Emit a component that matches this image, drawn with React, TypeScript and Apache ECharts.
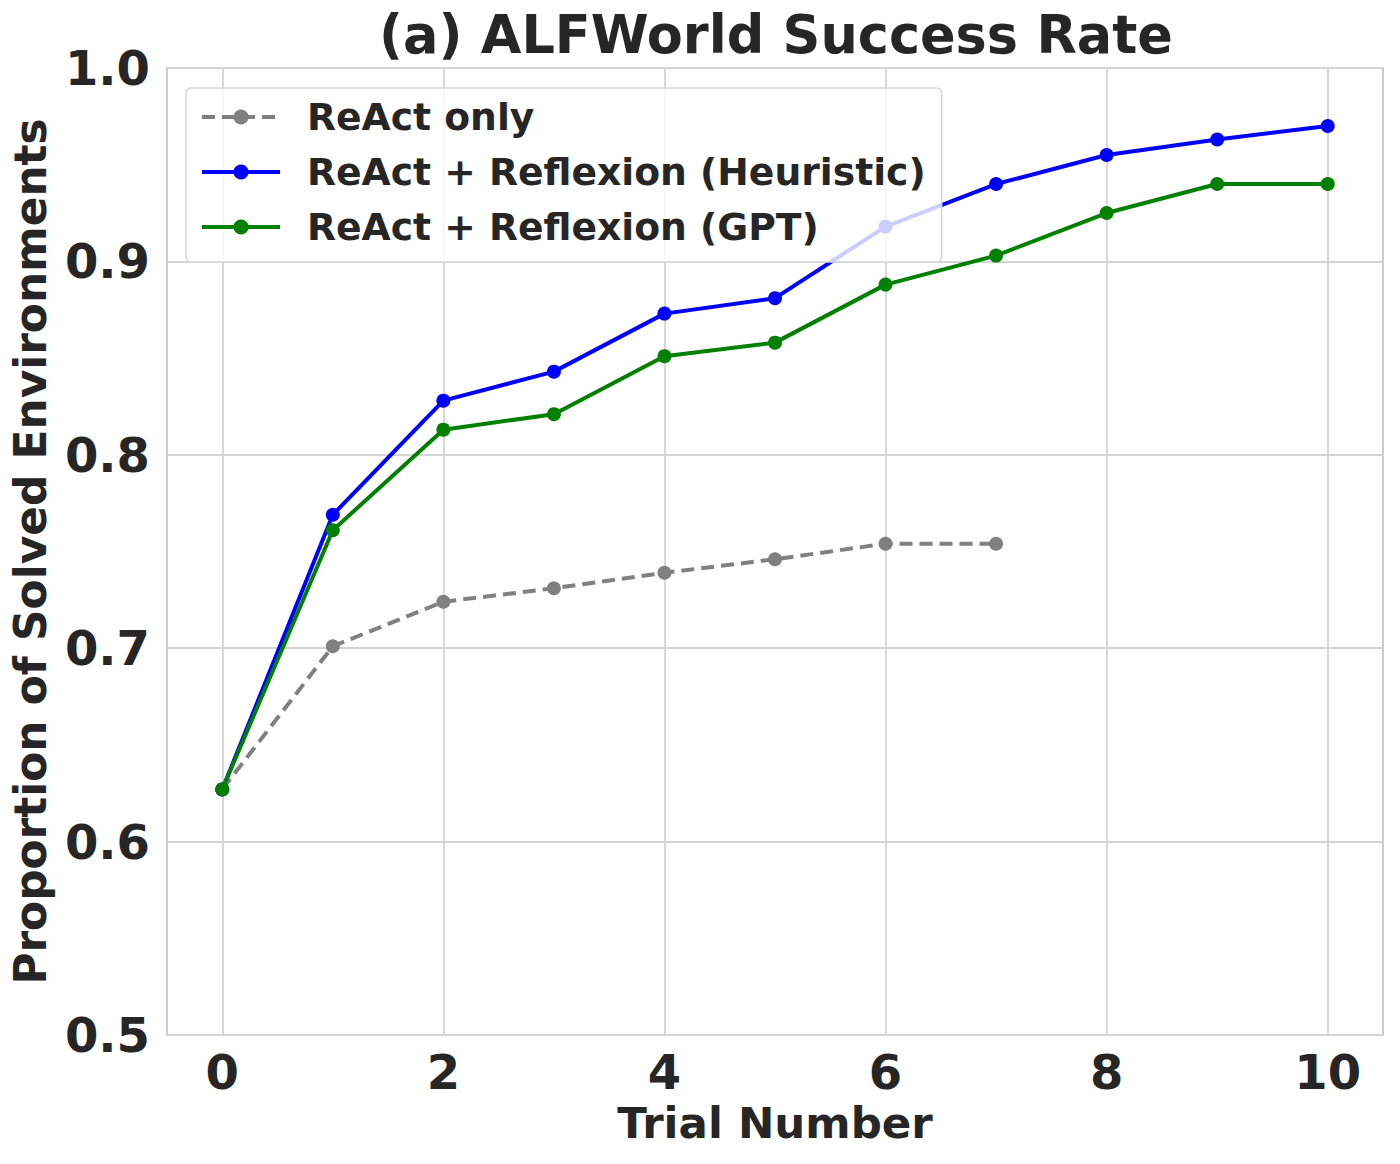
import React, { useEffect, useRef } from "react";
import * as echarts from "echarts";

const trials = [0, 1, 2, 3, 4, 5, 6, 7, 8, 9, 10];
const reactOnly = [0.627, 0.701, 0.724, 0.731, 0.739, 0.746, 0.754, 0.754];
const heuristic = [0.627, 0.769, 0.828, 0.843, 0.873, 0.881, 0.918, 0.94, 0.955, 0.963, 0.97];
const gpt = [0.627, 0.761, 0.813, 0.821, 0.851, 0.858, 0.888, 0.903, 0.925, 0.94, 0.94];
const xTicks = [0, 2, 4, 6, 8, 10];

const FONT = "DejaVu Sans";
const TXT = "#262626";

export default function App() {
  const ref = useRef<HTMLDivElement>(null);
  useEffect(() => {
    document.body.style.margin = "0";
    const chart = echarts.init(ref.current!, undefined, { renderer: "svg" });
    const pairs = (arr: number[]) => arr.map((v, i) => [trials[i], v]);
    const mk = (name: string, data: number[], color: string, dashed: boolean) => ({
      name,
      type: "line",
      data: pairs(data),
      symbol: "circle",
      symbolSize: 14,
      showSymbol: true,
      lineStyle: { color, width: 4, type: dashed ? [13, 7] : "solid", cap: "butt" },
      itemStyle: { color },
      z: 3,
    });
    chart.setOption({
      animation: false,
      backgroundColor: "#fff",
      textStyle: { fontFamily: FONT },
      title: {
        text: "(a) ALFWorld Success Rate",
        left: 771,
        textAlign: "center",
        top: 3,
        textStyle: { fontFamily: FONT, fontWeight: "bold", fontSize: 52.5, color: TXT },
      },
      grid: {
        left: 167,
        right: 17,
        top: 68,
        bottom: 129,
        outerBoundsMode: "none",
        containLabel: false,
        show: true,
        borderColor: "#cccccc",
        borderWidth: 2,
        backgroundColor: "transparent",
      },
      legend: {
        orient: "vertical",
        left: 186,
        top: 88,
        itemWidth: 78,
        itemHeight: 19,
        itemGap: 11,
        padding: [7, 16, 13, 14],
        backgroundColor: "rgba(255,255,255,0.8)",
        borderColor: "#d6d6d6",
        borderWidth: 1.5,
        borderRadius: 5,
        lineStyle: { width: 4 },
        textStyle: {
          fontFamily: FONT,
          fontWeight: "bold",
          fontSize: 37.7,
          color: TXT,
          lineHeight: 44,
          padding: [0, 0, 0, 22],
        },
        data: ["ReAct only", "ReAct + Reflexion (Heuristic)", "ReAct + Reflexion (GPT)"],
      },
      xAxis: {
        type: "value",
        min: -0.5,
        max: 10.5,
        name: "Trial Number",
        nameLocation: "middle",
        nameGap: 66,
        nameTextStyle: { fontFamily: FONT, fontWeight: "bold", fontSize: 43.5, color: TXT },
        axisLine: { show: false },
        axisTick: { show: false, customValues: xTicks },
        axisLabel: {
          customValues: xTicks,
          margin: 13,
          fontFamily: FONT,
          fontWeight: "bold",
          fontSize: 48,
          color: TXT,
        },
        splitLine: { show: true, lineStyle: { color: "#d4d4d4", width: 1.8 } },
      },
      yAxis: {
        type: "value",
        min: 0.5,
        max: 1.0,
        interval: 0.1,
        name: "Proportion of Solved Environments",
        nameLocation: "middle",
        nameRotate: 90,
        nameGap: 115,
        nameTextStyle: { fontFamily: FONT, fontWeight: "bold", fontSize: 43.8, color: TXT },
        axisLine: { show: false },
        axisTick: { show: false },
        axisLabel: {
          margin: 17,
          fontFamily: FONT,
          fontWeight: "bold",
          fontSize: 48,
          color: TXT,
          formatter: (v: number) => v.toFixed(1),
        },
        splitLine: { show: true, lineStyle: { color: "#d4d4d4", width: 1.8 } },
      },
      series: [
        mk("ReAct only", reactOnly, "#808080", true),
        mk("ReAct + Reflexion (Heuristic)", heuristic, "#0000ff", false),
        mk("ReAct + Reflexion (GPT)", gpt, "#008000", false),
      ],
    });
    return () => chart.dispose();
  }, []);
  return <div ref={ref} style={{ width: 1400, height: 1164 }} />;
}
